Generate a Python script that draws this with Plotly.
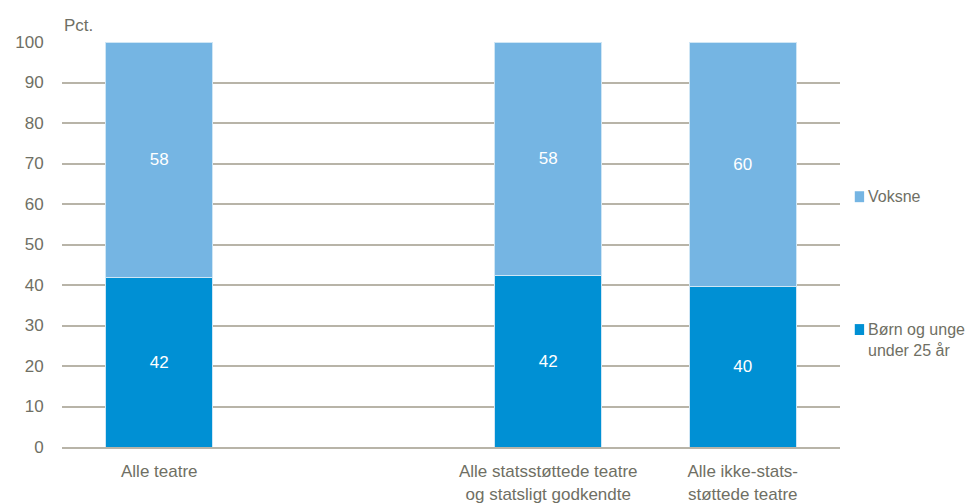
import plotly.graph_objects as go

# Data
categories = ["Alle teatre", " ", "Alle statsstøttede teatre<br>og statsligt godkendte",
              "Alle ikke-stats-<br>støttede teatre"]
boern = [41.9, None, 42.3, 39.6]
voksne = [58.1, None, 57.7, 60.4]
boern_labels = ["42", "", "42", "40"]
voksne_labels = ["58", "", "58", "60"]
series_names = ["Voksne", "Børn og unge<br>under 25 år"]

FONT = "Liberation Sans, Arial, sans-serif"
TXT = "#6f6f64"
GRID = "#b8b4a8"
C_DARK = "#0090d4"
C_LIGHT = "#75b5e3"

fig = go.Figure()

fig.add_trace(go.Bar(
    x=categories, y=boern, name=series_names[1],
    marker=dict(color=C_DARK, line=dict(width=1, color="#cfe6f5")),
    text=boern_labels, textposition="inside", insidetextanchor="middle",
    textfont=dict(color="white", size=17, family=FONT),
    showlegend=False,
))
fig.add_trace(go.Bar(
    x=categories, y=voksne, name=series_names[0],
    marker=dict(color=C_LIGHT, line=dict(width=1, color="#cfe6f5")),
    text=voksne_labels, textposition="inside", insidetextanchor="middle",
    textfont=dict(color="white", size=17, family=FONT),
    showlegend=False,
))

# legend drawn as squares + labels on the right
legend_items = [(series_names[0], C_LIGHT, 0.618), (series_names[1], C_DARK, 0.290)]
shapes = []
annotations = [dict(
    text="Pct.", xref="paper", yref="paper", x=0.0, y=1.012,
    xanchor="left", yanchor="bottom", showarrow=False,
    font=dict(size=17, color=TXT),
)]
for name, col, yc in legend_items:
    shapes.append(dict(type="rect", xref="paper", yref="paper",
                       x0=1.019, x1=1.031, y0=yc - 0.0135, y1=yc + 0.0135,
                       fillcolor=col, line=dict(width=0)))
    annotations.append(dict(
        text=name, xref="paper", yref="paper", x=1.034, y=yc + 0.027,
        xanchor="left", yanchor="top", align="left", showarrow=False,
        font=dict(size=16, color=TXT),
    ))

fig.update_layout(
    barmode="stack",
    bargap=0.45,
    width=969, height=496,
    margin=dict(l=54, r=137, t=34, b=57),
    plot_bgcolor="white", paper_bgcolor="white",
    font=dict(family=FONT, color=TXT, size=17),
    showlegend=False,
    shapes=shapes,
    annotations=annotations,
    xaxis=dict(
        type="category", showgrid=False, showline=True, linecolor=GRID,
        linewidth=2, ticks="outside", ticklen=8, tickcolor="rgba(0,0,0,0)",
        tickfont=dict(size=17, color=TXT), automargin=False,
    ),
    yaxis=dict(
        range=[0, 100], dtick=10, showgrid=True, gridcolor=GRID, gridwidth=2,
        zeroline=False, ticks="outside", ticklen=14, tickcolor="rgba(0,0,0,0)",
        tickfont=dict(size=17, color=TXT), automargin=False,
    ),
)

fig.write_html("out.html")
